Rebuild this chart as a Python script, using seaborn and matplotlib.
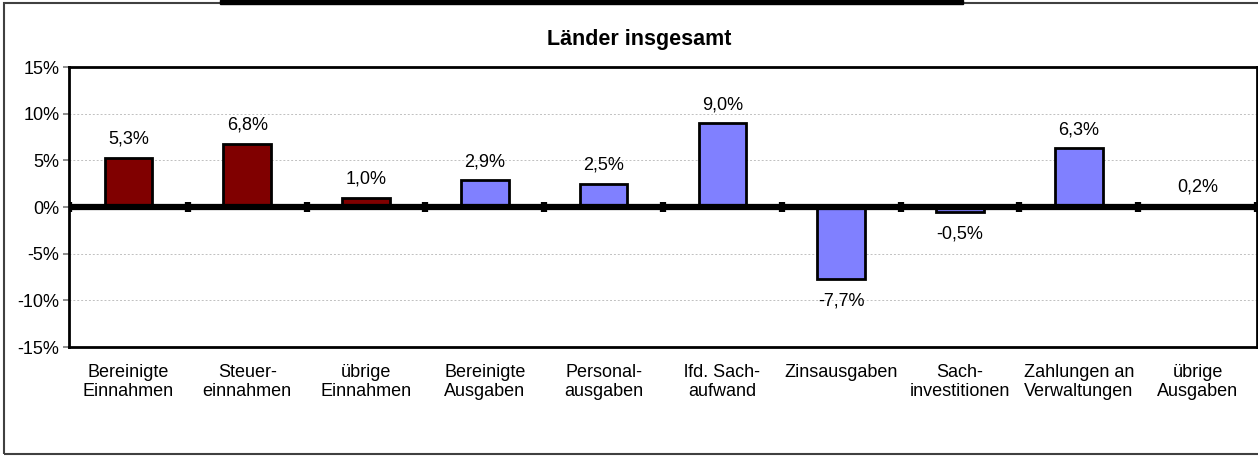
import matplotlib.pyplot as plt
import matplotlib.patches as mpatches
import seaborn as sns

CATEGORIES = [
    "Bereinigte\nEinnahmen",
    "Steuer-\neinnahmen",
    "übrige\nEinnahmen",
    "Bereinigte\nAusgaben",
    "Personal-\nausgaben",
    "lfd. Sach-\naufwand",
    "Zinsausgaben\n",
    "Sach-\ninvestitionen",
    "Zahlungen an\nVerwaltungen",
    "übrige\nAusgaben",
]
VALUES = [5.3, 6.8, 1.0, 2.9, 2.5, 9.0, -7.7, -0.5, 6.3, 0.2]
COLORS = ["#800000"] * 3 + ["#8080ff"] * 7
Y_TICKS = [-15, -10, -5, 0, 5, 10, 15]

sns.set_theme(style="white")
plt.rcParams["font.family"] = ["Liberation Sans", "DejaVu Sans"]
plt.rcParams["text.color"] = "black"
plt.rcParams["xtick.color"] = "black"
plt.rcParams["ytick.color"] = "black"

fig = plt.figure(figsize=(12.58, 4.57), dpi=100)
ax = fig.add_axes([69 / 1258, 110 / 457, 1188 / 1258, 280 / 457])

sns.barplot(
    x=CATEGORIES,
    y=VALUES,
    hue=CATEGORIES,
    palette=COLORS,
    legend=False,
    width=0.4,
    edgecolor="black",
    linewidth=2,
    saturation=1,
    ax=ax,
    zorder=3,
)

ax.set_xlim(-0.5, len(CATEGORIES) - 0.5)
ax.set_ylim(-15, 15)
ax.set_yticks(Y_TICKS)
ax.set_yticklabels([f"{t}%" for t in Y_TICKS], fontsize=13)
ax.tick_params(axis="y", length=4, color="#808080", labelcolor="black", pad=3, left=True)
ax.tick_params(axis="x", length=0, pad=12, labelsize=13, labelcolor="black")
for t in Y_TICKS:
    if t not in (-15, 0, 15):
        ax.axhline(t, color="#c0c0c0", lw=0.7, ls=(0, (2, 2)), zorder=1)

for s in ax.spines.values():
    s.set_visible(True)
    s.set_color("black")
    s.set_linewidth(2)

# thick zero line with category separators
ax.axhline(0, color="black", lw=4.5, zorder=4)
ax.vlines([i - 0.5 for i in range(len(CATEGORIES) + 1)], -0.5, 0.5,
          color="black", lw=4.5, zorder=5)

for i, v in enumerate(VALUES):
    txt = f"{v:.1f}%".replace(".", ",")
    if v >= 0:
        ax.annotate(txt, (i, v), xytext=(0, 7), textcoords="offset points",
                    ha="center", va="bottom", fontsize=13, color="black")
    else:
        ax.annotate(txt, (i, v), xytext=(0, -10), textcoords="offset points",
                    ha="center", va="top", fontsize=13, color="black")

fig.text(0.508, 1 - 40 / 457, "Länder insgesamt", ha="center", va="center",
         fontsize=15.5, fontweight="bold", color="black")

# outer chart frame and cut-off heading line
fig.patches.append(mpatches.Rectangle((4 / 1258, 3 / 457), 1.0, 451 / 457,
                                      transform=fig.transFigure, fill=False,
                                      edgecolor="#404040", lw=1.5))
fig.patches.append(mpatches.Rectangle((220 / 1258, 453 / 457), 743 / 1258, 4 / 457,
                                      transform=fig.transFigure, color="black"))

fig.savefig("out.png", dpi=100)
